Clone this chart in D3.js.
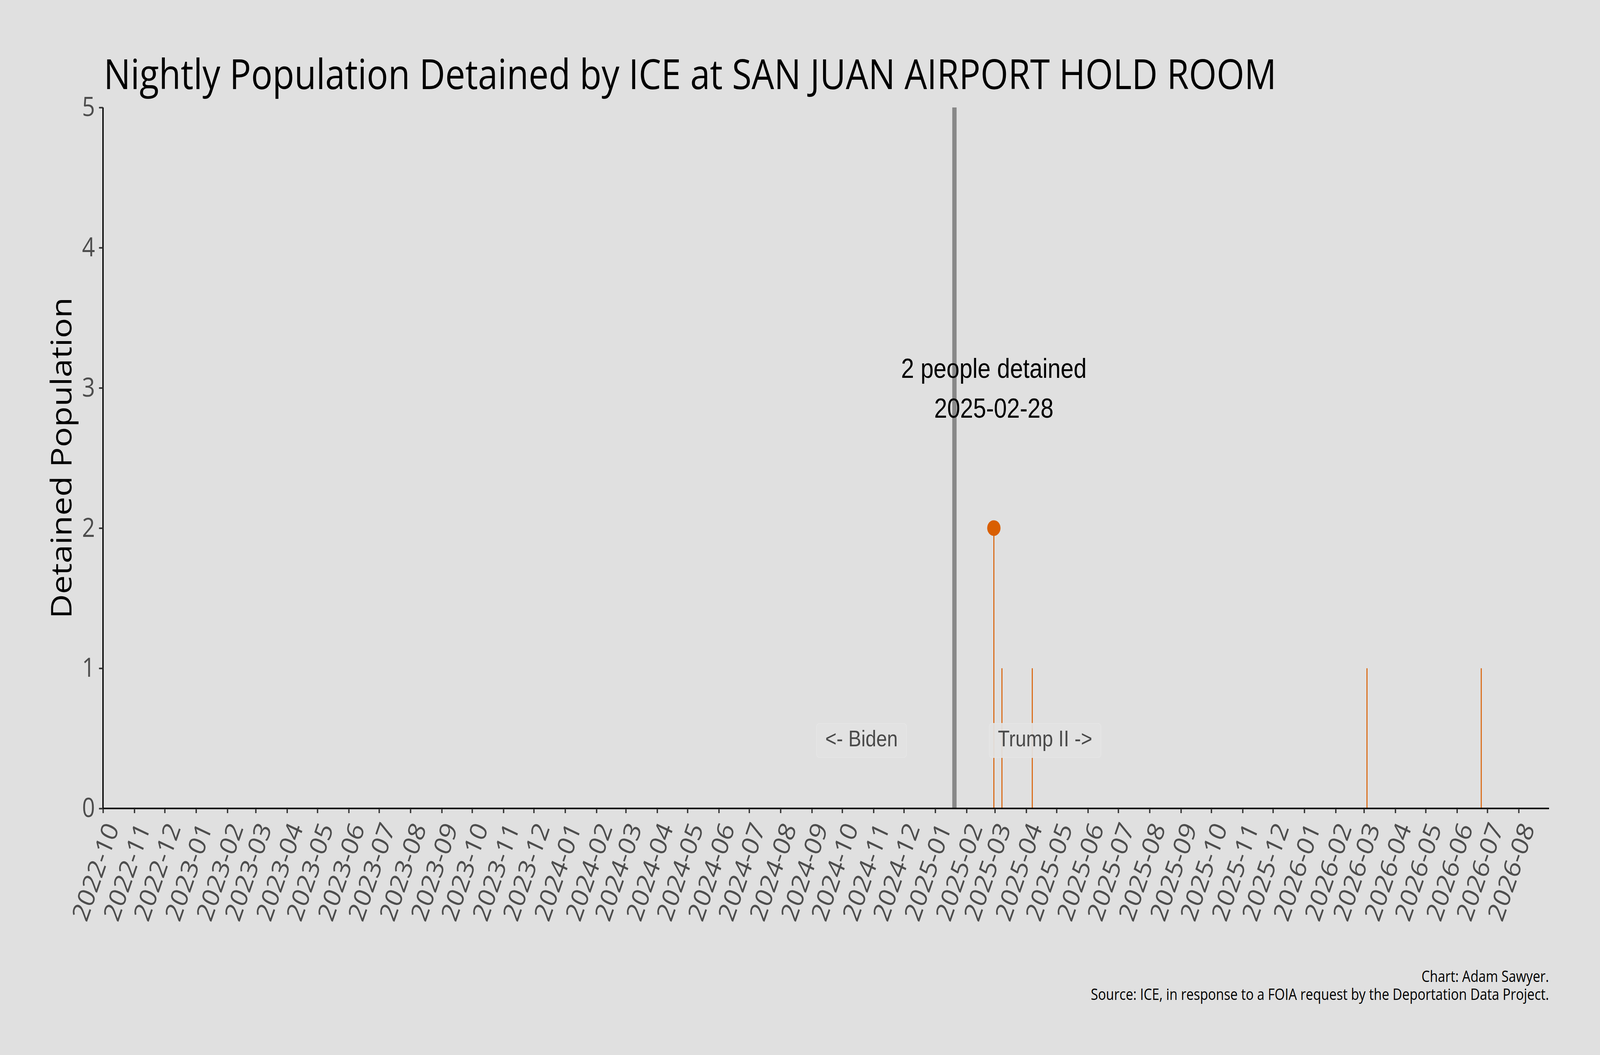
<!DOCTYPE html>
<html>
<head>
	<meta charset="utf-8">
	<title>Nightly Population Detained by ICE</title>
	<script src="https://cdn.jsdelivr.net/npm/d3@7"></script>
	<style>
		html,body{margin:0;padding:0;overflow:hidden;background:#e0e0e0;}
		svg{display:block;width:100vw;height:100vh;}
	</style>
</head>
<body>
	<svg viewBox="0 0 4800 2700" preserveAspectRatio="none"></svg>
	<script>
	/* data */
	var facility="SAN JUAN AIRPORT HOLD ROOM";
	var dates=["2025-02-28","2025-03-08","2025-04-07","2026-03-04","2026-06-25"];
	var detained=[2,1,1,1,1];
	var yTicks=[0,1,2,3,4,5];
	var xDomain=["2022-10-01","2026-08-31"];
	var inauguration="2025-01-20";
	var eraLabels=["<- Biden","Trump II ->"];
	var eraDates=["2024-11-25","2025-03-04"];
	var credits=["Chart: Adam Sawyer.","Source: ICE, in response to a FOIA request by the Deportation Data Project."];

	var parse=d3.timeParse("%Y-%m-%d");
	var fmtMonth=d3.timeFormat("%Y-%m");
	var sans="'Open Sans', 'Noto Sans', sans-serif";
	var arial="'Liberation Sans', Arial, sans-serif";

	var svg=d3.select("svg");
	var marge={top:275,bottom:631,left:309,right:153};
	var width=4800, height=2700;
	var innerW=width-marge.left-marge.right;
	var innerH=height-marge.top-marge.bottom;

	svg.append("rect").attr("width",width).attr("height",height).attr("fill","#e0e0e0");

	var x=d3.scaleTime().domain(xDomain.map(parse)).range([0,innerW]);
	var y=d3.scaleLinear().domain([0,5]).range([innerH,0]);

	var g=svg.append("g").attr("transform","translate("+marge.left+","+marge.top+")");

	/* title */
	svg.append("text")
		.attr("x",marge.left+2).attr("y",228)
		.attr("font-family",sans).attr("font-size",107)
		.attr("fill","#000")
		.text("Nightly Population Detained by ICE at "+facility);

	/* inauguration line */
	g.append("line")
		.attr("x1",x(parse(inauguration))).attr("x2",x(parse(inauguration)))
		.attr("y1",y(5)).attr("y2",y(0))
		.attr("stroke","#888888").attr("stroke-width",13);

	/* detained stems */
	var pts=dates.map(function(d,i){return {date:parse(d),value:detained[i],label:d};});
	g.selectAll(".stem").data(pts).enter().append("line")
		.attr("class","stem")
		.attr("x1",function(d){return x(d.date);})
		.attr("x2",function(d){return x(d.date);})
		.attr("y1",y(0))
		.attr("y2",function(d){return y(d.value);})
		.attr("stroke","#d95f02").attr("stroke-width",3);

	/* era labels with soft boxes */
	eraLabels.forEach(function(t,i){
		var lg=g.append("g");
		var tx=lg.append("text")
			.attr("x",x(parse(eraDates[i])))
			.attr("y",y(0.5))
			.attr("dy","0.35em")
			.attr("text-anchor",i===0?"end":"start")
			.attr("font-family",arial).attr("font-size",58)
			.attr("fill","#4a4a4a")
			.text(t);
		var bb=tx.node().getBBox();
		lg.insert("rect","text")
			.attr("x",bb.x-26).attr("y",y(0.5)-38)
			.attr("width",bb.width+52).attr("height",87)
			.attr("rx",8)
			.attr("fill","#e2e2e2").attr("fill-opacity",0.93)
			.attr("stroke","#e6e6e6").attr("stroke-width",2);
	});

	/* peak marker and annotation */
	var peak=pts.reduce(function(a,b){return b.value>a.value?b:a;});
	g.append("circle")
		.attr("cx",x(peak.date)).attr("cy",y(peak.value))
		.attr("r",20).attr("fill","#d95f02");
	var ann=g.append("text")
		.attr("text-anchor","middle")
		.attr("font-family",arial).attr("font-size",70)
		.attr("fill","#000");
	ann.append("tspan").attr("x",x(peak.date)).attr("y",y(peak.value+1)-26)
		.text(peak.value+" people detained");
	ann.append("tspan").attr("x",x(peak.date)).attr("y",y(peak.value+1)+76)
		.text(peak.label);

	/* y axis */
	var yAxis=g.append("g").call(d3.axisLeft(y).tickValues(yTicks).tickSize(12).tickPadding(12).tickFormat(d3.format("d")));
	yAxis.select(".domain").attr("stroke","#000").attr("stroke-width",4).attr("d","M0,"+innerH+"V0");
	yAxis.selectAll(".tick line").attr("stroke","#333").attr("stroke-width",4);
	yAxis.selectAll(".tick text").attr("font-family",sans).attr("font-size",68).attr("fill","#4d4d4d");

	/* x axis */
	var xAxis=g.append("g").attr("transform","translate(0,"+innerH+")")
		.call(d3.axisBottom(x).ticks(d3.timeMonth.every(1)).tickSize(12).tickFormat(fmtMonth));
	xAxis.select(".domain").attr("stroke","#000").attr("stroke-width",4).attr("d","M0,0H"+innerW);
	xAxis.selectAll(".tick line").attr("stroke","#333").attr("stroke-width",4);
	xAxis.selectAll(".tick text")
		.attr("font-family",sans).attr("font-size",70).attr("fill","#4d4d4d")
		.attr("text-anchor","end")
		.attr("y",0).attr("dy","0.75em")
		.attr("transform","translate(0,30) rotate(-68)");

	/* y label */
	svg.append("text")
		.attr("transform","translate(215,"+(marge.top+innerH/2)+") rotate(-90)")
		.attr("text-anchor","middle")
		.attr("font-family",sans).attr("font-size",86)
		.attr("fill","#000")
		.text("Detained Population");

	/* credits */
	credits.forEach(function(c,i){
		svg.append("text")
			.attr("x",marge.left+innerW).attr("y",2513+i*46)
			.attr("text-anchor","end")
			.attr("font-family",sans).attr("font-size",39.5)
			.attr("fill","#000")
			.text(c);
	});
	</script>
</body>
</html>
